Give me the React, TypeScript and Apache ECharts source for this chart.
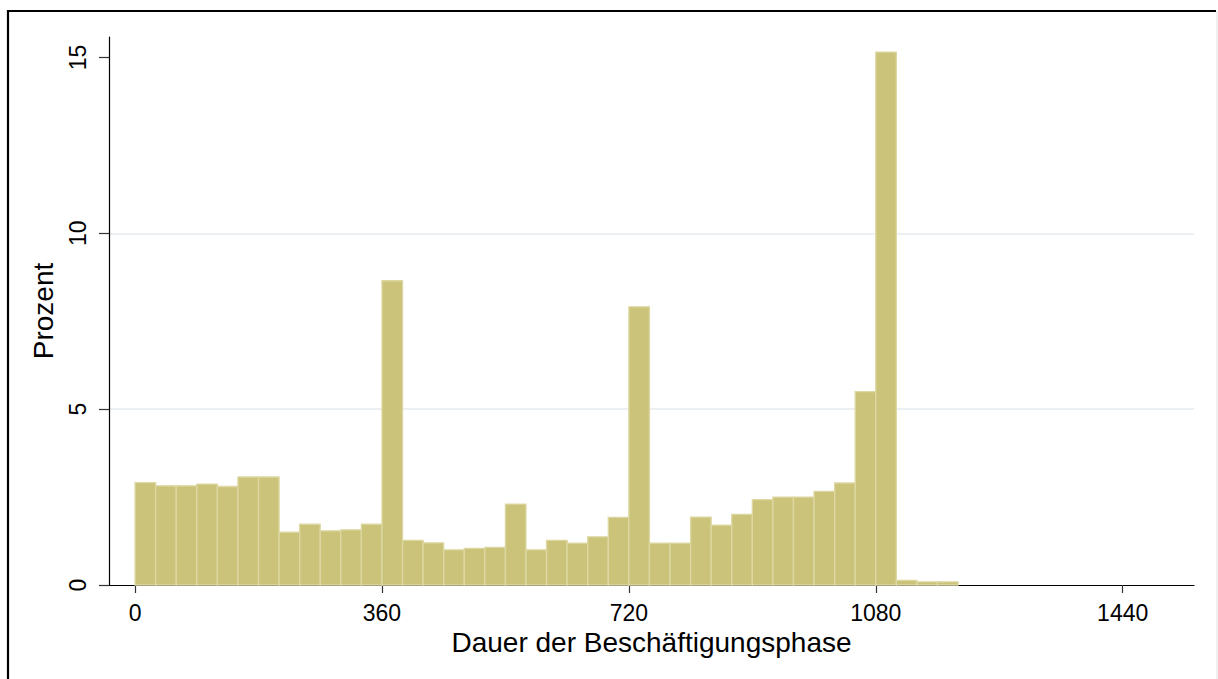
import React, { useEffect, useRef } from "react";
import * as echarts from "echarts";

const binStarts = [
  0, 30, 60, 90, 120, 150, 180, 210, 240, 270, 300, 330, 360, 390, 420, 450, 480, 510, 540, 570,
  600, 630, 660, 690, 720, 750, 780, 810, 840, 870, 900, 930, 960, 990, 1020, 1050, 1080, 1110, 1140, 1170,
];
const binWidth = 30;
const percents = [
  2.91, 2.82, 2.82, 2.87, 2.8, 3.07, 3.07, 1.5, 1.73, 1.54, 1.57, 1.73, 8.65, 1.27, 1.2, 1.0, 1.04, 1.07, 2.3, 1.0,
  1.27, 1.19, 1.37, 1.92, 7.91, 1.19, 1.19, 1.93, 1.7, 2.01, 2.43, 2.5, 2.5, 2.66, 2.9, 5.5, 15.15, 0.13, 0.09, 0.09,
];
const xTicks = [0, 360, 720, 1080, 1440];
const yTicks = [0, 5, 10, 15];
const xTitle = "Dauer der Beschäftigungsphase";
const yTitle = "Prozent";

const FONT = "'Liberation Sans', Arial, sans-serif";

export default function App() {
  const ref = useRef<HTMLDivElement>(null);
  useEffect(() => {
    if (!ref.current) return;
    const chart = echarts.init(ref.current, undefined, { renderer: "svg" });
    const data = binStarts.map((s, i) => [s, s + binWidth, percents[i]]);
    chart.setOption({
      animation: false,
      backgroundColor: "#ffffff",
      grid: { left: 109, right: 24, top: 37, bottom: 94 },
      xAxis: {
        type: "value",
        min: -38,
        max: 1544,
        name: xTitle,
        nameLocation: "middle",
        nameGap: 40,
        nameTextStyle: { fontFamily: FONT, fontSize: 28, color: "#000" },
        axisLine: { show: true, onZero: false, lineStyle: { color: "#000", width: 1.2 } },
        axisTick: { show: true, customValues: xTicks, length: 8, lineStyle: { color: "#333", width: 1.2 } },
        axisLabel: {
          customValues: xTicks,
          formatter: (v: number) => String(v),
          fontFamily: FONT,
          fontSize: 23,
          color: "#000",
          margin: 16,
        },
        splitLine: { show: false },
      },
      yAxis: {
        type: "value",
        min: 0,
        max: 15.58,
        interval: 5,
        name: yTitle,
        nameLocation: "middle",
        nameGap: 52,
        nameRotate: 90,
        nameTextStyle: { fontFamily: FONT, fontSize: 28, color: "#000" },
        axisLine: { show: true, onZero: false, lineStyle: { color: "#000", width: 1.2 } },
        axisTick: { show: true, customValues: yTicks, length: 10, lineStyle: { color: "#333", width: 1.2 } },
        axisLabel: {
          customValues: yTicks,
          formatter: (v: number) => String(v),
          rotate: 90,
          fontFamily: FONT,
          fontSize: 23,
          color: "#000",
          margin: 20,
        },
        splitLine: { show: true, showMinLine: false, showMaxLine: false, lineStyle: { color: "#edf0f3", width: 2 } },
      },
      series: [
        {
          type: "custom",
          data,
          encode: { x: [0, 1], y: 2 },
          renderItem: (params: any, api: any) => {
            const x0 = api.value(0);
            const x1 = api.value(1);
            const v = api.value(2);
            const p0 = api.coord([x0, v]);
            const p1 = api.coord([x1, 0]);
            return {
              type: "rect",
              shape: { x: p0[0], y: p0[1], width: p1[0] - p0[0], height: p1[1] - p0[1] },
              style: { fill: "#ccc37b", stroke: "#ddd8a2", lineWidth: 1.3 },
            };
          },
        },
      ],
      graphic: [
        {
          type: "polyline",
          shape: { points: [[8, 700], [8, 11], [1216, 11]] },
          style: { stroke: "#000", lineWidth: 2.2, fill: "none" },
          silent: true,
        },
        {
          type: "line",
          shape: { x1: 1217, y1: 11, x2: 1217, y2: 700 },
          style: { stroke: "#e2e2e2", lineWidth: 1 },
          silent: true,
        },
      ],
    });
    return () => chart.dispose();
  }, []);
  return (
    <div
      ref={ref}
      style={{ position: "fixed", left: 0, top: 0, width: 1218, height: 679, background: "#fff" }}
    />
  );
}
